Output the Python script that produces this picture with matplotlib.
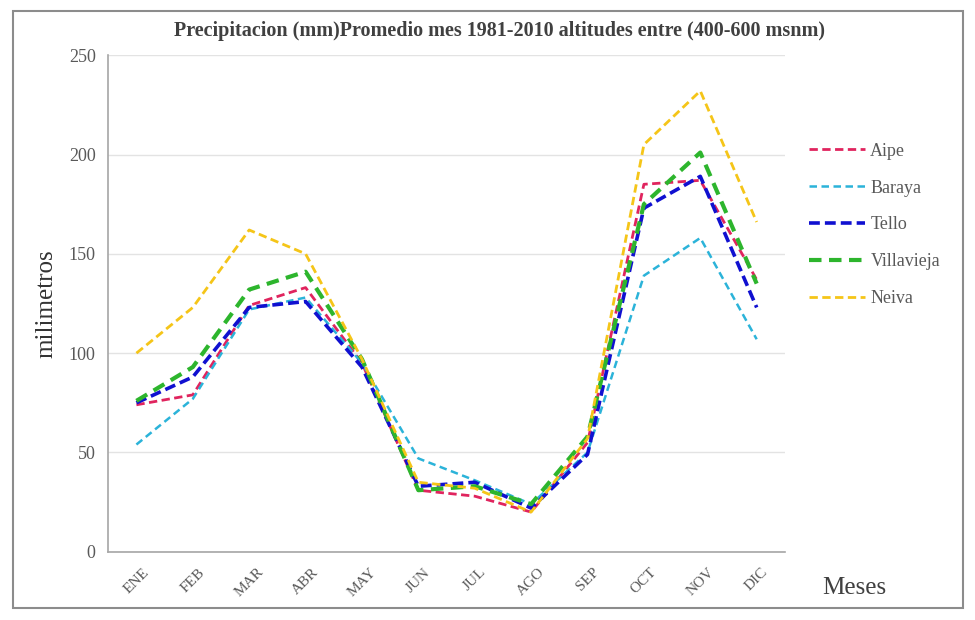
import matplotlib
matplotlib.use("Agg")
import matplotlib.pyplot as plt
from matplotlib.patches import Rectangle

meses = ["ENE", "FEB", "MAR", "ABR", "MAY", "JUN", "JUL", "AGO", "SEP", "OCT", "NOV", "DIC"]

aipe = [74, 79, 124, 133, 95, 31, 28, 20, 55, 185, 187, 137]
baraya = [54, 77, 122, 128, 95, 47, 36, 24, 50, 139, 158, 107]
tello = [75, 88, 123, 126, 93, 33, 35, 22, 49, 173, 189, 123]
villavieja = [76, 93, 132, 141, 97, 31, 33, 24, 58, 175, 201, 135]
neiva = [100, 123, 162, 150, 97, 35, 32, 20, 57, 205, 232, 166]

series = [
    ("Aipe", aipe, "#E0245E", 2.0, (0, (3, 1.6))),
    ("Baraya", baraya, "#2BB3D9", 1.8, (0, (3, 1.8))),
    ("Tello", tello, "#1010D0", 2.6, (0, (3, 1.4))),
    ("Villavieja", villavieja, "#2DB52D", 3.0, (0, (3, 1.8))),
    ("Neiva", neiva, "#F5C518", 2.0, (0, (3, 1.6))),
]

plt.rcParams["font.family"] = ["Liberation Serif", "DejaVu Serif"]

fig = plt.figure(figsize=(9.75, 6.2), dpi=100)
ax = fig.add_axes([0.111, 0.110, 0.694, 0.801])

x = list(range(len(meses)))
for name, vals, color, lw, ls in series:
    ax.plot(x, vals, color=color, lw=lw, linestyle=ls, label=name)

ax.set_xlim(-0.5, len(meses) - 0.5)
ax.set_ylim(0, 250)
ax.set_yticks([0, 50, 100, 150, 200, 250])
ax.set_xticks(x)
ax.set_xticklabels(meses, rotation=45, ha="center", va="top", fontsize=11, color="#595959")
ax.tick_params(axis="y", labelsize=13, labelcolor="#595959", length=0, pad=9)
ax.tick_params(axis="x", length=0, pad=10)

ax.grid(axis="y", color="#E3E3E3", lw=1)
ax.set_axisbelow(True)
for s in ["top", "right"]:
    ax.spines[s].set_visible(False)
ax.spines["left"].set_color("#A6A6A6")
ax.spines["bottom"].set_color("#A6A6A6")
ax.spines["left"].set_linewidth(1.2)
ax.spines["bottom"].set_linewidth(1.2)

ax.set_ylabel("milimetros", fontsize=18, color="#333333", labelpad=8)
fig.text(0.843, 0.052, "Meses", fontsize=18, color="#404040", ha="left", va="center")

fig.text(0.512, 0.950, "Precipitacion (mm)Promedio mes 1981-2010 altitudes entre (400-600 msnm)",
         fontsize=14.5, fontweight="bold", color="#404040", ha="center", va="center")

leg = fig.legend(loc="upper left", bbox_to_anchor=(0.813, 0.796), frameon=False,
                 fontsize=13, handlelength=3.1, handletextpad=0.3, labelspacing=1.1,
                 labelcolor="#595959")

fig.add_artist(Rectangle((0.013, 0.02), 0.975, 0.962, transform=fig.transFigure,
                         fill=False, edgecolor="#8C8C8C", lw=1.5))

fig.savefig("out.png", dpi=100, facecolor="white")
